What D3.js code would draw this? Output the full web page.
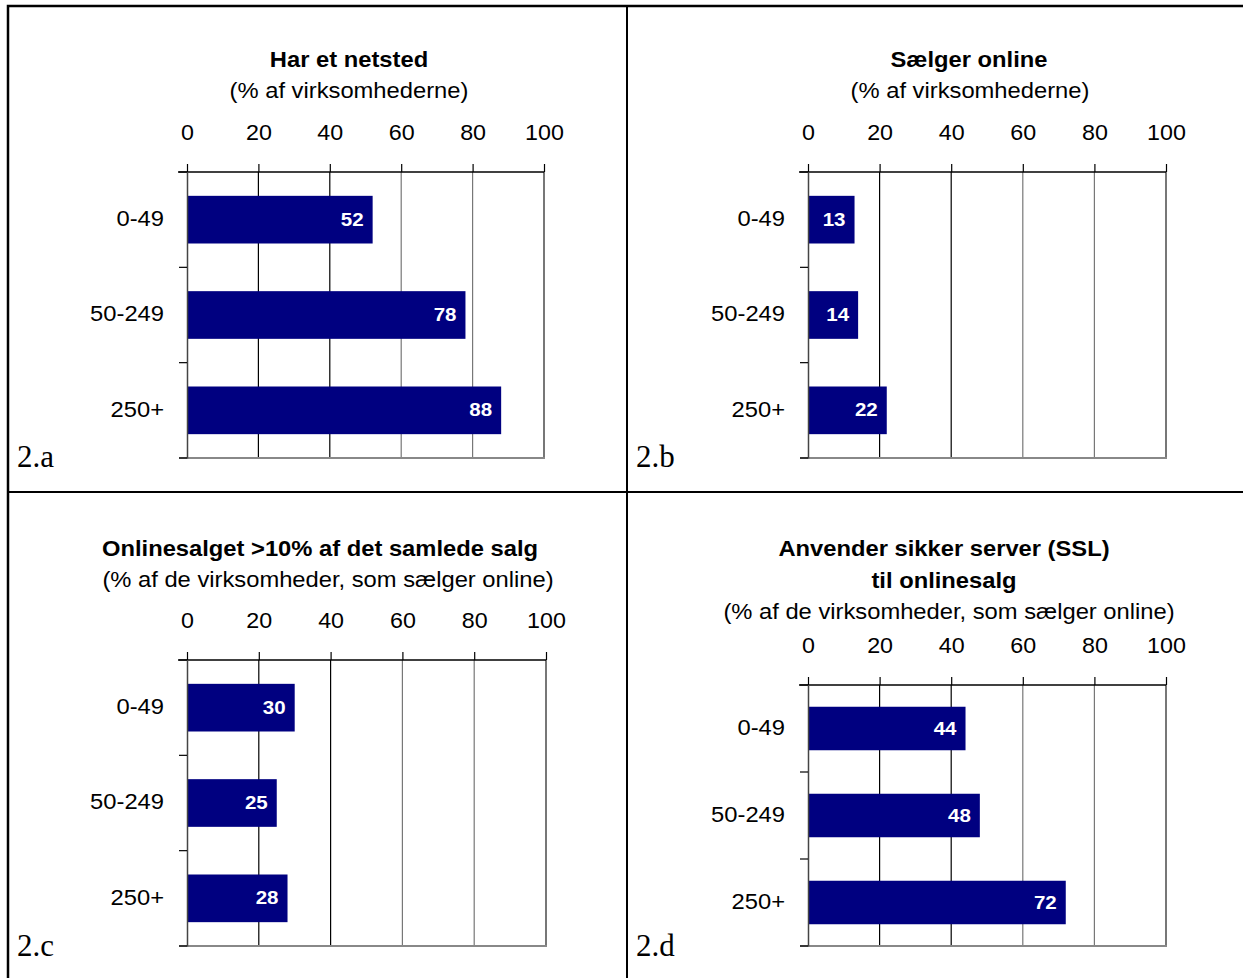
<!DOCTYPE html>
<html>
<head>
<meta charset="utf-8">
<script src="https://cdn.jsdelivr.net/npm/d3@7"></script>
<style>
  html, body { margin: 0; padding: 0; background: #fff; }
  svg { display: block; }
  text { font-family: "Liberation Sans", Arial, sans-serif; fill: #000; }
</style>
</head>
<body>
<svg id="chart" width="1243" height="978"></svg>
<script>
// Size classes of enterprises (number of employees)
const categories = ["0-49", "50-249", "250+"];
const xTicks = [0, 20, 40, 60, 80, 100];

// Percentages per panel
const valuesWebsite = [52, 78, 88];      // Har et netsted
const valuesSellOnline = [13, 14, 22];   // Sælger online
const valuesShareOver10 = [30, 25, 28];  // Onlinesalget >10%
const valuesSSL = [44, 48, 72];          // Anvender sikker server (SSL)

const panels = [
  { id: "2.a", values: valuesWebsite,
    title: ["Har et netsted"], subtitle: "(% af virksomhederne)",
    x0: 187, x1: 544, top: 172, bottom: 458, titleX: 349, subX: 349, titleY: 67,
    labelX: 17, labelY: 467 },
  { id: "2.b", values: valuesSellOnline,
    title: ["Sælger online"], subtitle: "(% af virksomhederne)",
    x0: 808, x1: 1166, top: 172, bottom: 458, titleX: 969, subX: 970, titleY: 67,
    labelX: 636, labelY: 467 },
  { id: "2.c", values: valuesShareOver10,
    title: ["Onlinesalget >10% af det samlede salg"], subtitle: "(% af de virksomheder, som sælger online)",
    x0: 187, x1: 546, top: 660, bottom: 946, titleX: 320, subX: 328, titleY: 556,
    labelX: 17, labelY: 956 },
  { id: "2.d", values: valuesSSL,
    title: ["Anvender sikker server (SSL)", "til onlinesalg"], subtitle: "(% af de virksomheder, som sælger online)",
    x0: 808, x1: 1166, top: 685, bottom: 946, titleX: 944, subX: 949, titleY: 556,
    labelX: 636, labelY: 956 }
];

const svg = d3.select("#chart");
const BAR = "#000080";
const SX = 1.08; // horizontal stretch of the sans-serif lettering

// Places a text whose glyphs are widened by SX around its anchor point
function wideText(sel, x, y) {
  return sel.attr("x", 0).attr("y", 0)
    .attr("transform", `translate(${x},${y}) scale(${SX},1)`);
}

// Outer frame and the cross dividing the four panels
svg.append("rect").attr("x", 8).attr("y", 6).attr("width", 1245).attr("height", 980)
  .attr("fill", "none").attr("stroke", "#000").attr("stroke-width", 2.5);
svg.append("line").attr("x1", 627).attr("x2", 627).attr("y1", 5).attr("y2", 978)
  .attr("stroke", "#000").attr("stroke-width", 2);
svg.append("line").attr("x1", 7).attr("x2", 1243).attr("y1", 492).attr("y2", 492)
  .attr("stroke", "#000").attr("stroke-width", 2);

panels.forEach(p => {
  const x = d3.scaleLinear().domain([0, 100]).range([p.x0, p.x1]);
  const y = d3.scaleBand().domain(categories).range([p.top, p.bottom])
    .paddingInner(0.5).paddingOuter(0.25);
  const step = y.step();
  const g = svg.append("g");

  // Titles
  p.title.forEach((t, i) => {
    g.append("text").call(wideText, p.titleX, p.titleY + i * 32)
      .attr("text-anchor", "middle").style("font-size", "22px").style("font-weight", "bold")
      .text(t);
  });
  g.append("text").call(wideText, p.subX, p.titleY + (p.title.length - 1) * 32 + 31)
    .attr("text-anchor", "middle").style("font-size", "22px").text(p.subtitle);

  // Vertical gridlines
  g.selectAll("line.grid").data(xTicks.slice(1)).join("line")
    .attr("class", "grid")
    .attr("x1", d => x(d)).attr("x2", d => x(d))
    .attr("y1", p.top).attr("y2", p.bottom)
    .attr("stroke", d => d < 50 ? "#000" : "#777").attr("stroke-width", d => d === 100 ? 2 : 1.2);

  // Bottom edge of plot area
  g.append("line").attr("x1", p.x0 - 8).attr("x2", p.x1 + 1).attr("y1", p.bottom).attr("y2", p.bottom)
    .attr("stroke", "#888").attr("stroke-width", 2);

  // Bars
  g.selectAll("rect.bar").data(p.values).join("rect")
    .attr("class", "bar")
    .attr("x", x(0)).attr("y", (d, i) => y(categories[i]))
    .attr("width", d => x(d) - x(0)).attr("height", y.bandwidth())
    .attr("fill", BAR);

  // Value labels inside bar ends
  g.selectAll("text.val").data(p.values).join("text")
    .attr("class", "val")
    .each(function (d, i) {
      wideText(d3.select(this), x(d) - 9, y(categories[i]) + y.bandwidth() / 2 + 6);
    })
    .attr("text-anchor", "end").style("font-size", "19px").style("font-weight", "bold")
    .style("fill", "#fff").text(d => d);

  // Top value axis
  const top = g.append("g").attr("transform", `translate(0,${p.top})`)
    .call(d3.axisTop(x).tickValues(xTicks).tickSize(8).tickPadding(24).tickSizeOuter(0));
  top.select(".domain").remove();
  top.selectAll(".tick line").attr("stroke", "#000").attr("stroke-width", 1.2);
  top.selectAll(".tick text").style("font-size", "22px").style("font-family", "'Liberation Sans', Arial, sans-serif")
    .attr("fill", "#000").attr("transform", `scale(${SX * 0.98},1)`);
  g.append("line").attr("x1", p.x0 - 9).attr("x2", p.x1).attr("y1", p.top).attr("y2", p.top)
    .attr("stroke", "#000").attr("stroke-width", 1.5);

  // Category axis
  const left = g.append("g").attr("transform", `translate(${p.x0},0)`)
    .call(d3.axisLeft(y).tickSize(0).tickPadding(23));
  left.select(".domain").attr("stroke", "#444").attr("stroke-width", 1.5);
  left.selectAll(".tick text").style("font-size", "22px").style("font-family", "'Liberation Sans', Arial, sans-serif")
    .attr("fill", "#000").attr("dy", "0.28em")
    .attr("x", -23 / SX).attr("transform", `scale(${SX},1)`);
  // Band boundary tick marks
  g.selectAll("line.bt").data(d3.range(categories.length + 1)).join("line")
    .attr("class", "bt")
    .attr("x1", p.x0 - 8).attr("x2", p.x0)
    .attr("y1", i => p.top + i * step).attr("y2", i => p.top + i * step)
    .attr("stroke", "#000").attr("stroke-width", 1.2);

  // Panel label
  g.append("text").attr("x", p.labelX).attr("y", p.labelY)
    .style("font-family", "'Liberation Serif', 'Times New Roman', serif").style("font-size", "31px")
    .text(p.id);
});
</script>
</body>
</html>
